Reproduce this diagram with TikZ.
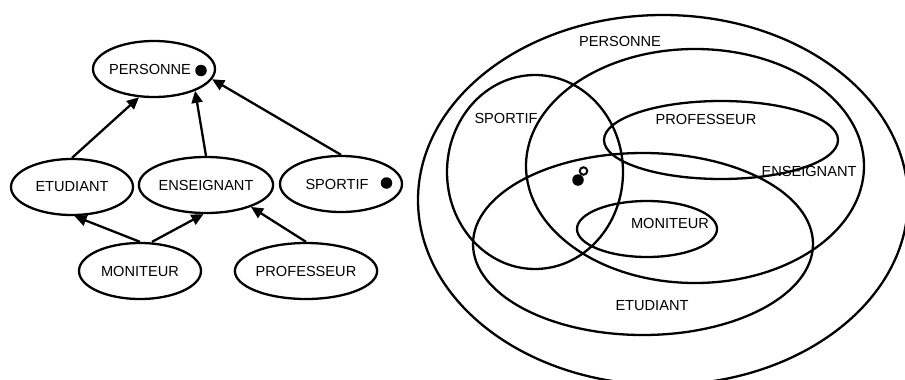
\documentclass[tikz,border=0pt]{standalone}
\usepackage{fontspec}
\setmainfont{Liberation Sans}
\usetikzlibrary{shapes.geometric,arrows.meta}
\begin{document}
\begin{tikzpicture}[x=1pt,y=-1pt,
  every node/.style={font=\fontsize{14.6}{17}\selectfont},
  cls/.style={ellipse,draw,line width=2.3pt,minimum width=122pt,minimum height=56pt,inner sep=0pt},
  arr/.style={line width=2.3pt,-{Triangle[length=12pt,width=11pt]}},
  venn/.style={line width=2.3pt},
  dotf/.style={circle,fill=black,inner sep=0pt,minimum size=11.5pt},
  doto/.style={circle,draw,line width=2pt,fill=white,inner sep=0pt,minimum size=7.5pt},
  lbl/.style={inner sep=0pt}]
\useasboundingbox (0,0) rectangle (905,380);
% left graph
\node[cls] (per) at (154,69) {\hspace*{-8pt}PERSONNE};
\node[cls] (etu) at (72,187) {ETUDIANT};
\node[cls] (ens) at (206,185) {ENSEIGNANT};
\node[cls] (spo) at (341,184) {SPORTIF\hspace*{8pt}};
\node[cls] (mon) at (140,271) {MONITEUR};
\node[cls] (pro) at (306,271) {PROFESSEUR};
\node[dotf] (pdot) at (201,70.5) {};
\node[dotf] (sdot) at (386.5,183) {};
\draw[arr] (etu.north) -- (per.-118);
\draw[arr] (ens.north) -- (per.-28);
\draw[arr] (spo.north) -- (per.-10);
\draw[arr] (mon.north) -- (etu.-85);
\draw[arr] ([xshift=12pt]mon.north) -- (ens.-95);
\draw[arr] (pro.north) -- (ens.-26);
% Venn diagram
\draw[venn] (663,200) ellipse [x radius=245, y radius=185];
\draw[venn] (695,166) ellipse [x radius=169, y radius=117];
\draw[venn] (535,172) ellipse [x radius=88, y radius=97];
\draw[venn] (721,140) ellipse [x radius=117, y radius=39];
\draw[venn] (643,244) ellipse [x radius=170, y radius=91];
\draw[venn] (647,229) ellipse [x radius=70, y radius=28];
\node[lbl] (vper) at (620,41) {PERSONNE};
\node[lbl] (vspo) at (506,118) {SPORTIF};
\node[lbl] (vpro) at (706,119) {PROFESSEUR};
\node[lbl] (vens) at (809,171) {ENSEIGNANT};
\node[lbl] (vmon) at (670,223) {MONITEUR};
\node[lbl] (vetu) at (652,306) {ETUDIANT};
\node[dotf] (odot) at (578,180) {};
\node[doto] (oopen) at (583.5,171) {};
\end{tikzpicture}
\end{document}
